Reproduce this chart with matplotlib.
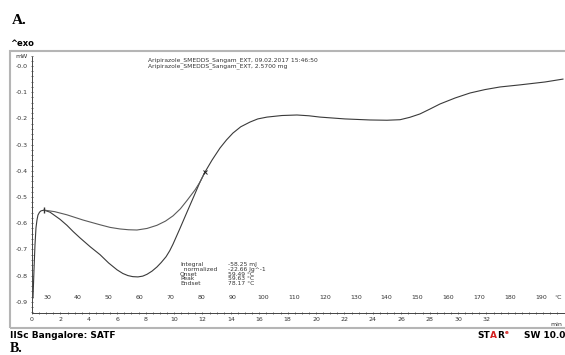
import numpy as np
import matplotlib.pyplot as plt
from matplotlib.patches import Rectangle
from matplotlib.ticker import MultipleLocator

# DSC trace (time in min, heat flow in mW)
time_min = [0.07, 0.14, 0.21, 0.28, 0.35, 0.42, 0.53, 0.63, 0.85, 1.27, 1.97, 2.46,
            2.90, 3.38, 4.10, 4.79, 5.40, 5.99, 6.40, 6.76, 7.10, 7.46, 7.80, 8.10,
            8.45, 8.80, 9.10, 9.44, 9.70, 9.93, 10.42, 10.92, 11.41, 11.83, 12.18,
            12.68, 13.24, 13.70, 14.15, 14.70, 15.35, 15.90, 16.55, 17.60, 18.66,
            19.50, 20.28, 22.04, 23.80, 25.00, 25.92, 26.60, 27.32, 28.00, 28.73,
            29.80, 30.85, 31.90, 32.96, 34.37, 36.13, 37.39]
heat_flow = [-0.885, -0.779, -0.683, -0.618, -0.588, -0.569, -0.558, -0.553, -0.550,
             -0.558, -0.585, -0.608, -0.632, -0.656, -0.690, -0.720, -0.752, -0.778,
             -0.792, -0.800, -0.804, -0.805, -0.802, -0.795, -0.783, -0.767, -0.750,
             -0.728, -0.705, -0.680, -0.620, -0.557, -0.496, -0.443, -0.405, -0.359,
             -0.313, -0.282, -0.256, -0.232, -0.214, -0.202, -0.195, -0.189, -0.187,
             -0.190, -0.195, -0.202, -0.206, -0.207, -0.205, -0.196, -0.183, -0.165,
             -0.145, -0.122, -0.103, -0.090, -0.080, -0.072, -0.061, -0.050]

# integration baseline
base_time = [0.85, 1.60, 2.46, 3.60, 4.79, 5.50, 6.20, 6.80, 7.39, 8.10, 8.80, 9.40,
             9.93, 10.45, 10.92, 11.48, 11.83, 12.18]
base_flow = [-0.550, -0.556, -0.568, -0.588, -0.606, -0.616, -0.622, -0.625, -0.626,
             -0.620, -0.608, -0.592, -0.572, -0.545, -0.513, -0.473, -0.443, -0.405]

# temperature scale (deg C) shown above the time axis
temp_labels = [30, 40, 50, 60, 70, 80, 90, 100, 110, 120, 130, 140, 150, 160, 170, 180, 190]
t_start = 25.1
rate = 4.6

y_ticks = [0.0, -0.1, -0.2, -0.3, -0.4, -0.5, -0.6, -0.7, -0.8, -0.9]

W, H = 565, 355
fig = plt.figure(figsize=(W / 100, H / 100), dpi=100)

# axes: left spine at x=32, bottom at y=313, top at y=51, right at image edge
ax = fig.add_axes([32 / W, 1 - 313 / H, (W - 32) / W, (313 - 51) / H])
ax.set_xlim(0, (W - 32) / 14.2)
ax.set_ylim(-(313 - 66) / 262, (66 - 51) / 262)

ax.plot(time_min, heat_flow, color='#3a3a3a', lw=0.8)
ax.plot(base_time, base_flow, color='#5a5a5a', lw=0.8)
ax.plot([base_time[0]], [base_flow[0]], marker='|', ms=5, color='#333333')
ax.plot([base_time[-1]], [base_flow[-1]], marker='x', ms=2.5, mew=0.7, color='#222222')

for s in ['top', 'right']:
    ax.spines[s].set_visible(False)
ax.spines['left'].set_color('#444444')
ax.spines['bottom'].set_color('#444444')
ax.spines['left'].set_linewidth(0.7)
ax.spines['bottom'].set_linewidth(0.7)
ax.spines['left'].set_bounds(-(313 - 66) / 262, (66 - 57) / 262)

ax.set_yticks(y_ticks)
ax.set_yticklabels(['-0.0'] + ['%.1f' % v for v in y_ticks[1:]])
ax.yaxis.set_minor_locator(MultipleLocator(0.02))
ax.set_xticks(np.arange(0, 33, 2))
ax.xaxis.set_minor_locator(MultipleLocator(0.5))
ax.tick_params(axis='both', labelsize=4.5, colors='#333333', length=2, width=0.5,
               pad=2, direction='inout')
ax.tick_params(which='minor', length=1.2, width=0.4, direction='inout')

for T in temp_labels:
    ax.text((T - t_start) / rate, 0.058, str(T), transform=ax.get_xaxis_transform(),
            fontsize=4.5, color='#333333', ha='center', va='center')
ax.text((W - 3 - 32) / 14.2, 0.058, '°C', transform=ax.get_xaxis_transform(),
        fontsize=4.5, color='#333333', ha='right', va='center')
ax.text((W - 3 - 32) / 14.2, -0.035, 'min', transform=ax.get_xaxis_transform(),
        fontsize=4.5, color='#333333', ha='right', va='top')

# outer frame (open on the right, runs past the image edge)
fig.patches.append(Rectangle((10 / W, 1 - 328 / H), (W + 10) / W, (328 - 51) / H,
                             transform=fig.transFigure, fill=False,
                             edgecolor='#b5b5b5', lw=1.5))

fig.text(15 / W, 1 - 57 / H, 'mW', fontsize=4.5, color='#333333', va='center')
fig.text(148 / W, 1 - 63 / H,
         'Aripirazole_SMEDDS_Sangam_EXT, 09.02.2017 15:46:50\n'
         'Aripirazole_SMEDDS_Sangam_EXT, 2.5700 mg',
         fontsize=4.3, color='#333333', va='center', linespacing=0.95)

ann_labels = 'Integral\n  normalized\nOnset\nPeak\nEndset'
ann_values = '-58.25 mJ\n-22.66 Jg^-1\n59.49 °C\n59.63 °C\n78.17 °C'
fig.text(180 / W, 1 - 274 / H, ann_labels, fontsize=4.3, color='#333333',
         va='center', linespacing=0.95)
fig.text(228 / W, 1 - 274 / H, ann_values, fontsize=4.3, color='#333333',
         va='center', linespacing=0.95)

fig.text(12 / W, 1 - 20 / H, 'A.', fontsize=11, fontweight='bold',
         family='Liberation Serif', va='center')
fig.text(10 / W, 1 - 44 / H, '^exo', fontsize=6, fontweight='bold', va='center')
fig.text(10 / W, 1 - 336 / H, 'IISc Bangalore: SATF', fontsize=6.5,
         fontweight='bold', va='center')
# STARe logo
fig.text(477 / W, 1 - 336 / H, 'ST', fontsize=6.5, fontweight='bold', va='center')
fig.text(490 / W, 1 - 336 / H, 'A', fontsize=6.5, fontweight='bold', va='center',
         color='#d42020')
fig.text(497 / W, 1 - 336 / H, 'R', fontsize=6.5, fontweight='bold', va='center')
fig.text(504.5 / W, 1 - 333 / H, 'e', fontsize=4, fontweight='bold', va='center',
         color='#d42020')
fig.text(565 / W, 1 - 336 / H, 'SW 10.0', fontsize=6.5, fontweight='bold',
         va='center', ha='right')
fig.text(10 / W, 1 - 348 / H, 'B.', fontsize=10, fontweight='bold',
         family='Liberation Serif', va='center')

fig.savefig('out.png', dpi=100)
